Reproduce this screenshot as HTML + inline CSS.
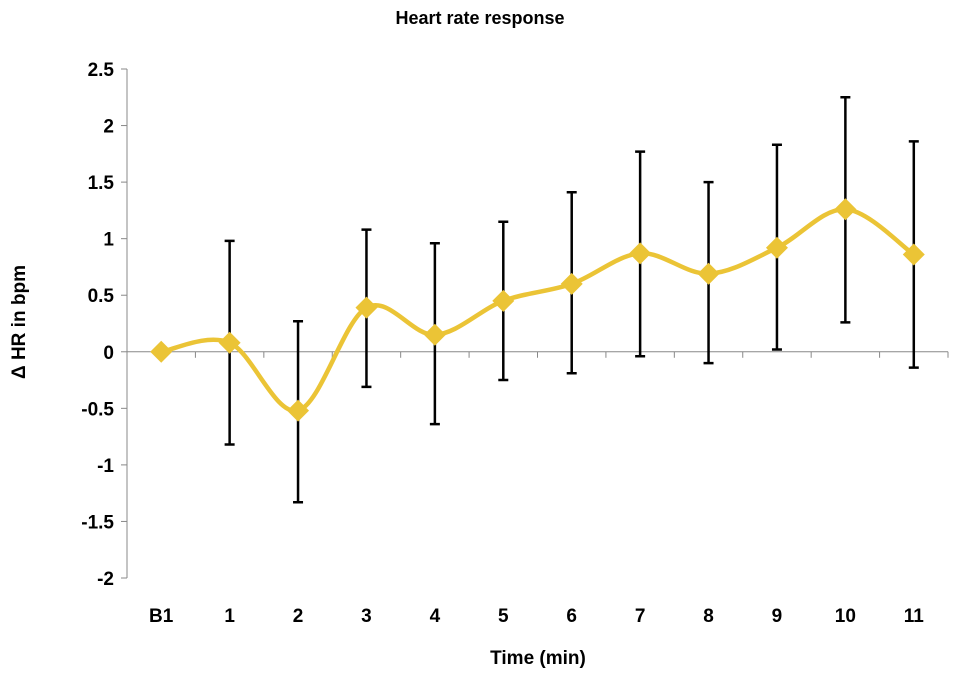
<!DOCTYPE html>
<html><head><meta charset="utf-8"><style>
body{margin:0;background:#fff}
svg text{font-family:"Liberation Sans",sans-serif;font-weight:bold;fill:#000}
</style></head><body>
<svg width="957" height="673" viewBox="0 0 957 673">
<text x="480" y="24" text-anchor="middle" font-size="18">Heart rate response</text>
<text transform="translate(25,322) rotate(-90)" text-anchor="middle" font-size="19">Δ HR in bpm</text>
<text x="538" y="664" text-anchor="middle" font-size="19">Time (min)</text>
<g id="plot"></g>
</svg>
<script>
const categories=["B1","1","2","3","4","5","6","7","8","9","10","11"];
const means=[0,0.08,-0.52,0.39,0.15,0.45,0.60,0.87,0.69,0.92,1.26,0.86];
const upper=[null,0.98,0.27,1.08,0.96,1.15,1.41,1.77,1.50,1.83,2.25,1.86];
const lower=[null,-0.82,-1.33,-0.31,-0.64,-0.25,-0.19,-0.04,-0.10,0.02,0.26,-0.14];
const yTicks=[2.5,2,1.5,1,0.5,0,-0.5,-1,-1.5,-2];
const yTickLabels=["2.5","2","1.5","1","0.5","0","-0.5","-1","-1.5","-2"];
const NS="http://www.w3.org/2000/svg";
const g=document.getElementById('plot');
const x0=127,x1=948,yTop=69,yBot=578;
function y(v){return yTop+(2.5-v)/4.5*(yBot-yTop);}
function x(i){return x0+(i+0.5)*(x1-x0)/categories.length;}
function mk(t,a){const e=document.createElementNS(NS,t);for(const k in a)e.setAttribute(k,a[k]);g.appendChild(e);return e;}
let e=mk('line',{x1:x0,y1:yTop,x2:x0,y2:yBot,stroke:'#888','stroke-width':1});


yTicks.forEach((v,i)=>{
 mk('line',{x1:x0-6,y1:y(v),x2:x0,y2:y(v),stroke:'#888'});
 const t=mk('text',{x:x0-13,y:y(v)+7,'text-anchor':'end','font-size':19});
 t.textContent=yTickLabels[i];
 
 
});
e=mk('line',{x1:x0,y1:y(0),x2:x1,y2:y(0),stroke:'#888'});


categories.forEach((c,i)=>{
 const xb=x0+(i+1)*(x1-x0)/categories.length;
 mk('line',{x1:xb,y1:y(0),x2:xb,y2:y(0)+6,stroke:'#888'});
 const t=mk('text',{x:x(i),y:622,'text-anchor':'middle','font-size':19});
 t.textContent=c;
 
 
});
categories.forEach((c,i)=>{
 if(upper[i]==null)return;
 const gx=x(i);
 const b=mk('path',{d:`M${gx},${y(upper[i])}V${y(lower[i])}M${gx-5},${y(upper[i])}H${gx+5}M${gx-5},${y(lower[i])}H${gx+5}`,stroke:'#000','stroke-width':2.5,fill:'none'});
 
 
});
const P=means.map((v,i)=>[x(i),y(v)]);
let d=`M${P[0][0]},${P[0][1]}`;
for(let i=0;i<P.length-1;i++){
 const p0=P[Math.max(0,i-1)],p1=P[i],p2=P[i+1],p3=P[Math.min(P.length-1,i+2)];
 const t=1/6;
 d+=` C${p1[0]+(p2[0]-p0[0])*t},${p1[1]+(p2[1]-p0[1])*t} ${p2[0]-(p3[0]-p1[0])*t},${p2[1]-(p3[1]-p1[1])*t} ${p2[0]},${p2[1]}`;
}
const ln=mk('path',{d:d,stroke:'#EBC436','stroke-width':4.5,fill:'none'});


P.forEach(p=>{
 const m=mk('path',{d:`M${p[0]},${p[1]-11}L${p[0]+11},${p[1]}L${p[0]},${p[1]+11}L${p[0]-11},${p[1]}Z`,fill:'#EBC436'});
 
 
});
</script>
</body></html>
